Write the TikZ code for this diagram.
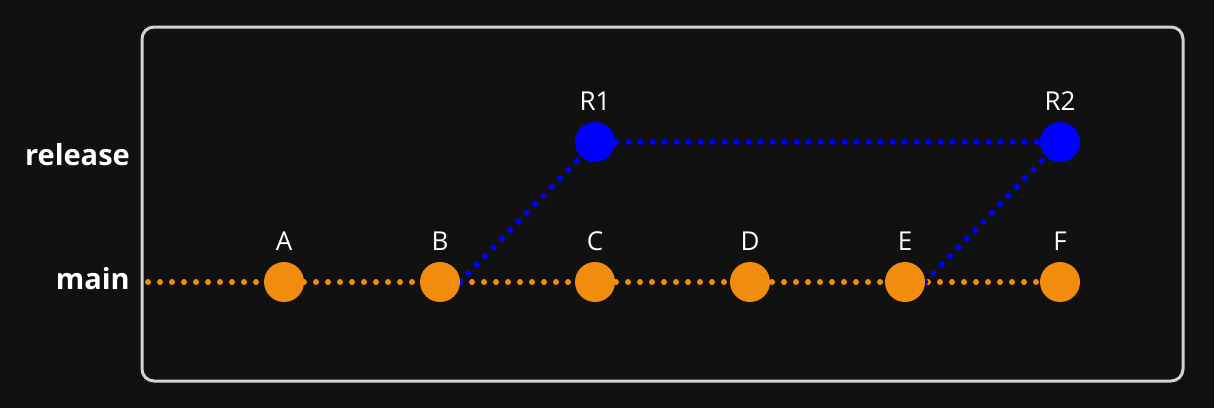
\documentclass[tikz,border=0pt]{standalone}
\usepackage{fontspec}
\setmainfont{Open Sans}
\usetikzlibrary{backgrounds}
\definecolor{bg}{HTML}{111111}
\definecolor{frame}{HTML}{D2D2D2}
\definecolor{mainc}{HTML}{F28C0F}
\definecolor{relc}{HTML}{0000FF}
\tikzset{
  commit/.style={circle,minimum size=40pt,inner sep=0pt,fill=#1},
  clabel/.style={text=white,font=\fontsize{26}{26}\selectfont},
  branchlbl/.style={text=white,font=\bfseries\fontsize{29}{29}\selectfont,anchor=east,inner sep=0pt},
  dots/.style={line width=6pt,line cap=round,dash pattern=on 0pt off 12pt,draw=#1}
}
\begin{document}
\begin{tikzpicture}[x=1pt,y=-1pt]
\useasboundingbox (0,0) rectangle (1214,408);
\draw[frame,line width=3pt,rounded corners=12pt] (142,27) rectangle (1183,381);
\node[branchlbl] (rel) at (130,155) {release};
\node[branchlbl] (mn) at (130,279) {main};
\coordinate (start) at (148,282);
\node[commit=mainc] (A) at (284,282) {};
\node[commit=mainc] (B) at (440,282) {};
\node[commit=mainc] (C) at (595,282) {};
\node[commit=mainc] (D) at (750,282) {};
\node[commit=mainc] (E) at (905,282) {};
\node[commit=mainc] (F) at (1060,282) {};
\node[commit=relc] (R1) at (595,142) {};
\node[commit=relc] (R2) at (1060,142) {};
\foreach \n in {A,B,C,D,E,F}{\node[clabel] (l\n) at ([yshift=41pt]\n.center) {\n};}
\node[clabel] (lR1) at ([yshift=41pt]R1.center) {R1};
\node[clabel] (lR2) at ([yshift=41pt]R2.center) {R2};
\begin{pgfonlayer}{background}
\fill[bg] (0,0) rectangle (1214,408);
\draw[dots=mainc] (start) -- (A.center) -- (B.center) -- (C.center) -- (D.center) -- (E.center) -- (F.center);
\draw[dots=relc] (B.east) -- (R1.center) -- (R2.center);
\draw[dots=relc] (E.east) -- (R2.center);
\end{pgfonlayer}
\end{tikzpicture}
\end{document}
